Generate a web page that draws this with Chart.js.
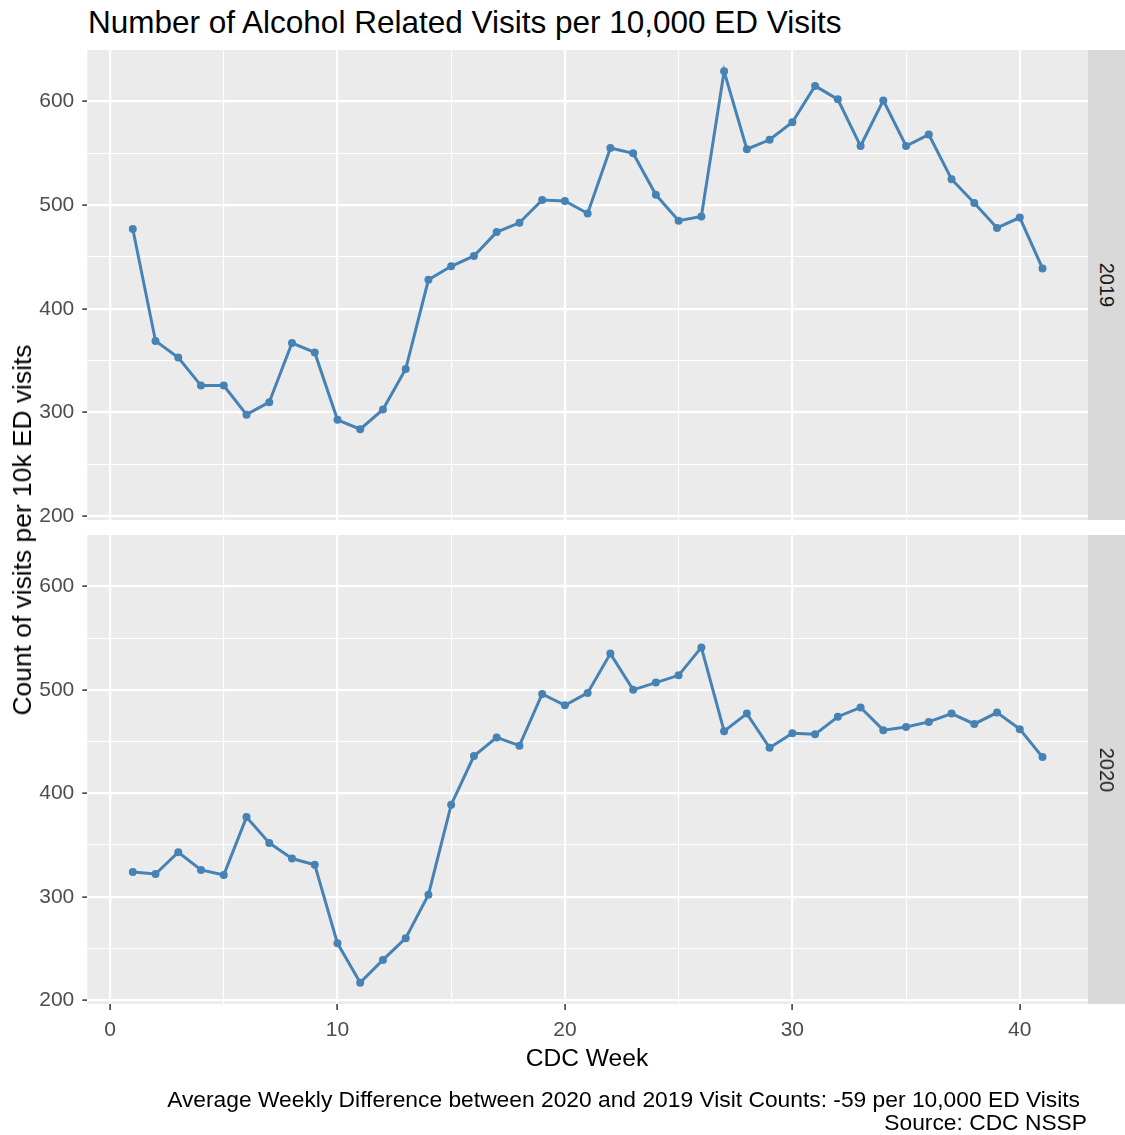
<!DOCTYPE html>
<html lang="en">
<head>
<meta charset="UTF-8">
<title>Alcohol Related Visits per 10,000 ED Visits</title>
<style>
    body { margin: 0; background: #fff; font-family: "Liberation Sans", Arial, sans-serif; }
    #page { position: relative; width: 1125px; height: 1135px; overflow: hidden; }
    canvas { position: absolute; left: 0; }
    #topChart { top: 0; }
    #bottomChart { top: 530px; }
    .txt { position: absolute; white-space: nowrap; color: #000; }
    #title { left: 88px; top: 5px; font-size: 31.5px; line-height: 34px; }
    #ylab { left: 22px; top: 530px; font-size: 26.4px; line-height: 28px; transform: translate(-50%, -50%) rotate(-90deg); }
    #xlab { left: 587px; top: 1058px; font-size: 24.6px; line-height: 26px; transform: translate(-50%, -50%); }
    .caption { font-size: 22.8px; line-height: 23px; text-align: right; }
    #caption1 { right: 45px; top: 1088px; }
    #caption2 { right: 38px; top: 1111px; }
    .strip { position: absolute; left: 1088px; width: 37px; background: #D9D9D9; }
    .strip span { position: absolute; left: 50%; top: 50%; font-size: 20px; line-height: 20px; color: #1A1A1A;
        transform: translate(-50%, -50%) rotate(90deg); white-space: nowrap; }
</style>
</head>
<body>
<div id="page">
    <div class="txt" id="title">Number of Alcohol Related Visits per 10,000 ED Visits</div>
    <canvas id="topChart" width="1125" height="525"></canvas>
    <canvas id="bottomChart" width="1125" height="605"></canvas>
    <div class="strip" style="top:50px;height:470px"><span>2019</span></div>
    <div class="strip" style="top:535px;height:469px"><span>2020</span></div>
    <div class="txt" id="ylab">Count of visits per 10k ED visits</div>
    <div class="txt" id="xlab">CDC Week</div>
    <div class="txt caption" id="caption1">Average Weekly Difference between 2020 and 2019 Visit Counts: -59 per 10,000 ED Visits</div>
    <div class="txt caption" id="caption2">Source: CDC NSSP</div>
</div>

<script src="https://cdn.jsdelivr.net/npm/chart.js"></script>
<script>
    // datos
    const weeks = [1, 2, 3, 4, 5, 6, 7, 8, 9, 10, 11, 12, 13, 14, 15, 16, 17, 18, 19, 20,
        21, 22, 23, 24, 25, 26, 27, 28, 29, 30, 31, 32, 33, 34, 35, 36, 37, 38, 39, 40, 41];
    const visits2019 = [477, 369, 353, 326, 326, 298, 310, 367, 358, 293, 284, 303, 342, 428, 441, 451, 474, 483, 505, 504,
        492, 555, 550, 510, 485, 489, 629, 554, 563, 580, 615, 602, 557, 601, 557, 568, 525, 502, 478, 488, 439];
    const visits2020 = [324, 322, 343, 326, 321, 377, 352, 337, 331, 255, 217, 239, 260, 302, 389, 436, 454, 446, 496, 485,
        497, 535, 500, 507, 514, 541, 460, 477, 444, 458, 457, 474, 483, 461, 464, 469, 477, 467, 478, 462, 435];
    const xTicks = [0, 5, 10, 15, 20, 25, 30, 35, 40];
    const xLabels = [0, 10, 20, 30, 40];
    const yTicks = [200, 250, 300, 350, 400, 450, 500, 550, 600];
    const yLabels = [200, 300, 400, 500, 600];

    const LINE = '#4682B4';
    const FONT = '"Liberation Sans", Arial, sans-serif';

    // fondo gris del panel
    const panelBg = {
        id: 'panelBg',
        beforeDraw(chart) {
            const { ctx, chartArea: a } = chart;
            ctx.save();
            ctx.fillStyle = '#EBEBEB';
            ctx.fillRect(a.left, a.top, a.right - a.left, a.bottom - a.top);
            ctx.restore();
        }
    };

    const noPad = ax => { ax.paddingTop = 0; ax.paddingBottom = 0; ax.paddingLeft = 0; ax.paddingRight = 0; };

    const makeChart = (id, values, showX) => new Chart(document.getElementById(id), {
        type: 'line',
        data: {
            datasets: [{
                data: weeks.map((w, i) => ({ x: w, y: values[i] })),
                borderColor: LINE, backgroundColor: LINE, borderWidth: 3,
                pointRadius: 4, pointBorderWidth: 0, pointHoverRadius: 4, tension: 0
            }]
        },
        options: {
            responsive: false, animation: false, events: [],
            layout: { padding: showX ? { top: 5, right: 37, bottom: 0, left: 0 } : { top: 50, right: 37, bottom: 5, left: 0 } },
            plugins: { legend: { display: false }, tooltip: { enabled: false } },
            scales: {
                x: {
                    type: 'linear', min: -1, max: 43,
                    afterBuildTicks: ax => { ax.ticks = xTicks.map(v => ({ value: v })); },
                    afterFit: ax => { ax.height = showX ? 131 : 0; noPad(ax); },
                    border: { display: false },
                    grid: {
                        color: '#FFFFFF', drawTicks: showX, tickLength: 6, tickWidth: 1.5,
                        lineWidth: c => xLabels.includes(c.tick && c.tick.value) ? 2.2 : 1.1,
                        tickColor: c => xLabels.includes(c.tick && c.tick.value) ? '#333333' : 'rgba(0,0,0,0)'
                    },
                    ticks: {
                        display: showX, autoSkip: false, maxRotation: 0, padding: 8, color: '#4D4D4D',
                        font: { size: 21, family: FONT },
                        callback: v => xLabels.includes(v) ? String(v) : ''
                    }
                },
                y: {
                    type: 'linear', min: 196.4, max: 649.6,
                    afterBuildTicks: ax => { ax.ticks = yTicks.map(v => ({ value: v })); },
                    afterFit: ax => { ax.width = 87.3; noPad(ax); },
                    border: { display: false },
                    grid: {
                        color: '#FFFFFF', tickLength: 5, tickWidth: 1.5,
                        lineWidth: c => yLabels.includes(c.tick && c.tick.value) ? 2.2 : 1.1,
                        tickColor: c => yLabels.includes(c.tick && c.tick.value) ? '#333333' : 'rgba(0,0,0,0)'
                    },
                    ticks: {
                        autoSkip: false, padding: 8, color: '#4D4D4D',
                        font: { size: 21, family: FONT },
                        callback: v => yLabels.includes(v) ? String(v) : ''
                    }
                }
            }
        },
        plugins: [panelBg]
    });

    makeChart('topChart', visits2019, false);
    makeChart('bottomChart', visits2020, true);
</script>
</body>
</html>
